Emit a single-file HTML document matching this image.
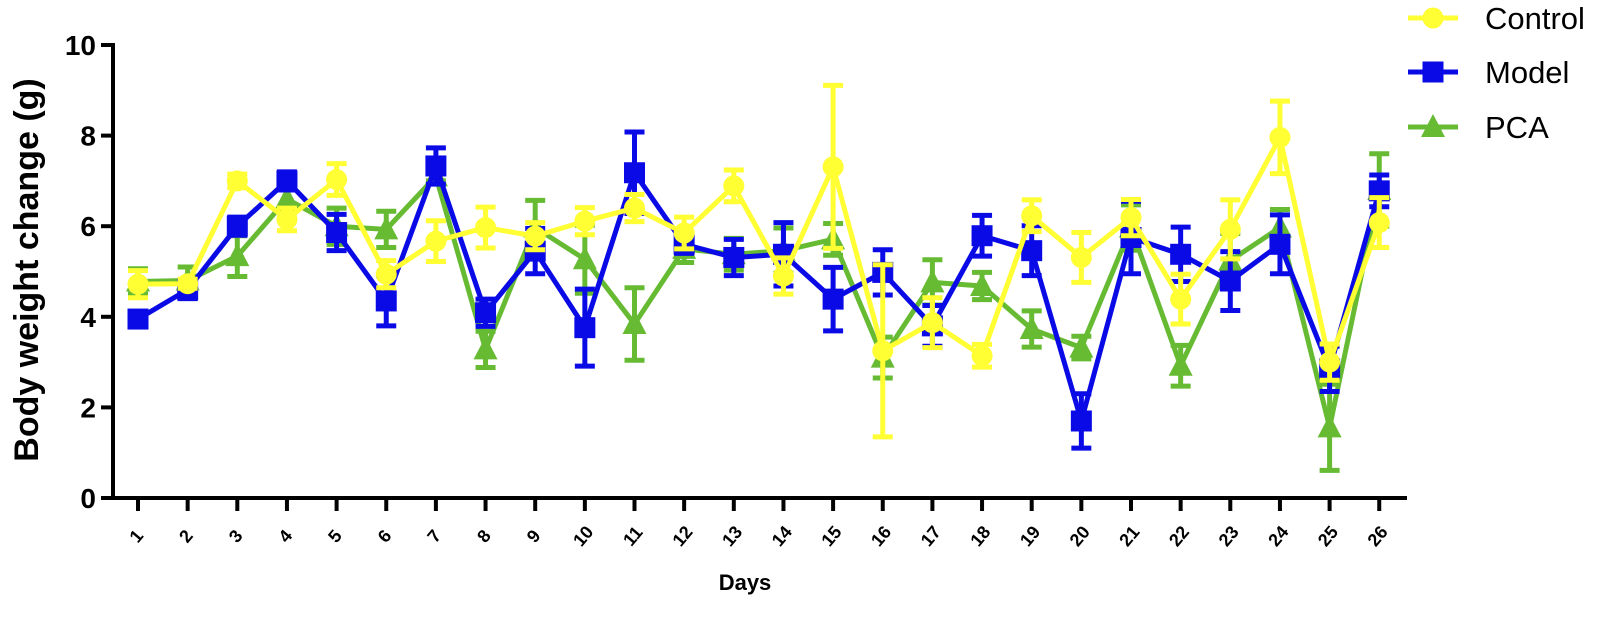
<!DOCTYPE html>
<html><head><meta charset="utf-8"><style>
body{margin:0;background:#fff;width:1606px;height:617px;overflow:hidden}
text{font-family:"Liberation Sans",Arial,sans-serif;font-weight:bold}
</style></head><body>
<svg id="chart" width="1606" height="617" xmlns="http://www.w3.org/2000/svg">
<g id="axes"></g>
<g id="series"></g>
<g id="legend"></g>
</svg>
<script>
const days=[1,2,3,4,5,6,7,8,9,10,11,12,13,14,15,16,17,18,19,20,21,22,23,24,25,26];
const yTicks=[0,2,4,6,8,10];
const controlMean=[4.72,4.73,7.0,6.15,7.03,4.94,5.67,5.97,5.78,6.11,6.4,5.85,6.89,4.9,7.31,3.25,3.87,3.14,6.23,5.31,6.19,4.39,5.93,7.96,3.0,6.08];
const controlErr=[0.3,0.1,0.15,0.25,0.35,0.3,0.45,0.45,0.3,0.3,0.3,0.35,0.35,0.4,1.8,1.9,0.55,0.25,0.35,0.55,0.4,0.55,0.65,0.8,0.4,0.55];
const modelMean=[3.95,4.6,6.0,7.0,5.86,4.35,7.33,4.09,5.45,3.76,7.18,5.6,5.31,5.38,4.39,4.98,3.8,5.79,5.46,1.7,5.75,5.38,4.79,5.6,2.85,6.78];
const modelErr=[0.1,0.2,0.2,0.2,0.4,0.55,0.4,0.3,0.5,0.85,0.9,0.2,0.4,0.7,0.7,0.5,0.45,0.45,0.55,0.6,0.8,0.6,0.65,0.65,0.5,0.35];
const pcaMean=[4.78,4.8,5.34,6.6,6.0,5.93,7.1,3.28,5.97,5.27,3.84,5.5,5.38,5.46,5.71,3.1,4.76,4.68,3.73,3.32,5.97,2.92,5.24,5.97,1.56,6.8];
const pcaErr=[0.28,0.3,0.45,0.3,0.4,0.4,0.1,0.4,0.6,0.75,0.8,0.3,0.35,0.5,0.35,0.45,0.5,0.3,0.4,0.25,0.5,0.45,0.6,0.4,0.95,0.8];

const NS='http://www.w3.org/2000/svg';
const X0=113,Y0=498,YS=45.3;
function xs(d){return 138+(d-1)*49.65;}
function ys(v){return Y0-v*YS;}
function mk(tag,attrs,parent){const e=document.createElementNS(NS,tag);for(const k in attrs)e.setAttribute(k,attrs[k]);parent.appendChild(e);return e;}
const axes=document.getElementById('axes');
let l=mk('line',{x1:X0,y1:ys(10)-2,x2:X0,y2:Y0+2,stroke:'#000','stroke-width':4},axes);


l=mk('line',{x1:X0-12,y1:Y0,x2:1407,y2:Y0,stroke:'#000','stroke-width':4},axes);


yTicks.forEach(v=>{
 const t=mk('line',{x1:X0-12,y1:ys(v),x2:X0,y2:ys(v),stroke:'#000','stroke-width':4},axes);
 
 
 const tx=mk('text',{x:X0-17,y:ys(v)+10,'text-anchor':'end','font-size':28},axes);
 tx.textContent=v;
 
 
});
days.forEach(d=>{
 const t=mk('line',{x1:xs(d),y1:Y0,x2:xs(d),y2:Y0+13,stroke:'#000','stroke-width':4},axes);
 
 
 const tx=mk('text',{x:0,y:0,'text-anchor':'middle','font-size':18,transform:`translate(${xs(d)+3},${Y0+42}) rotate(-50)`},axes);
 tx.textContent=d;
 
 
});
let tt=mk('text',{x:745,y:590,'text-anchor':'middle','font-size':22},axes);
tt.textContent='Days';


tt=mk('text',{x:0,y:0,'text-anchor':'middle','font-size':34,transform:'translate(38,270) rotate(-90)'},axes);
tt.textContent='Body weight change (g)';



function marker(shape,x,y,c,parent){
 if(shape==='circle')return mk('circle',{cx:x,cy:y,r:10.5,fill:c},parent);
 if(shape==='square')return mk('rect',{x:x-10.5,y:y-10.5,width:21,height:21,fill:c},parent);
 return mk('polygon',{points:`${x},${y-13} ${x-12},${y+10} ${x+12},${y+10}`,fill:c},parent);
}
const ser=document.getElementById('series');
function drawSeries(name,means,errs,color,shape){
 const g=mk('g',{},ser);
 
 
 const pl=mk('polyline',{points:days.map((d,i)=>xs(d)+','+ys(means[i])).join(' '),fill:'none',stroke:color,'stroke-width':5,'stroke-linejoin':'round'},g);
 
 
 days.forEach((d,i)=>{
  const x=xs(d),t=ys(means[i]+errs[i]),b=ys(means[i]-errs[i]);
  const eb=mk('path',{d:`M${x},${t}V${b}M${x-10},${t}H${x+10}M${x-10},${b}H${x+10}`,stroke:color,'stroke-width':5,fill:'none'},g);
  
  
  const m=marker(shape,x,ys(means[i]),color,g);
  
  
 });
}
drawSeries('pca',pcaMean,pcaErr,'#66bb33','triangle');
drawSeries('model',modelMean,modelErr,'#0a0ae6','square');
drawSeries('control',controlMean,controlErr,'#ffff33','circle');

const leg=document.getElementById('legend');
[['Control','#ffff33','circle',18],['Model','#0a0ae6','square',72],['PCA','#66bb33','triangle',127]].forEach(([n,c,s,y])=>{
 const g=mk('g',{},leg);
 
 
 mk('line',{x1:1408,y1:y,x2:1458,y2:y,stroke:c,'stroke-width':5},g);
 marker(s,1433,y,c,g);
 const t=mk('text',{x:1485,y:y+11,'font-size':31,style:'font-weight:normal'},g);
 t.textContent=n;
});
</script>
</body></html>
